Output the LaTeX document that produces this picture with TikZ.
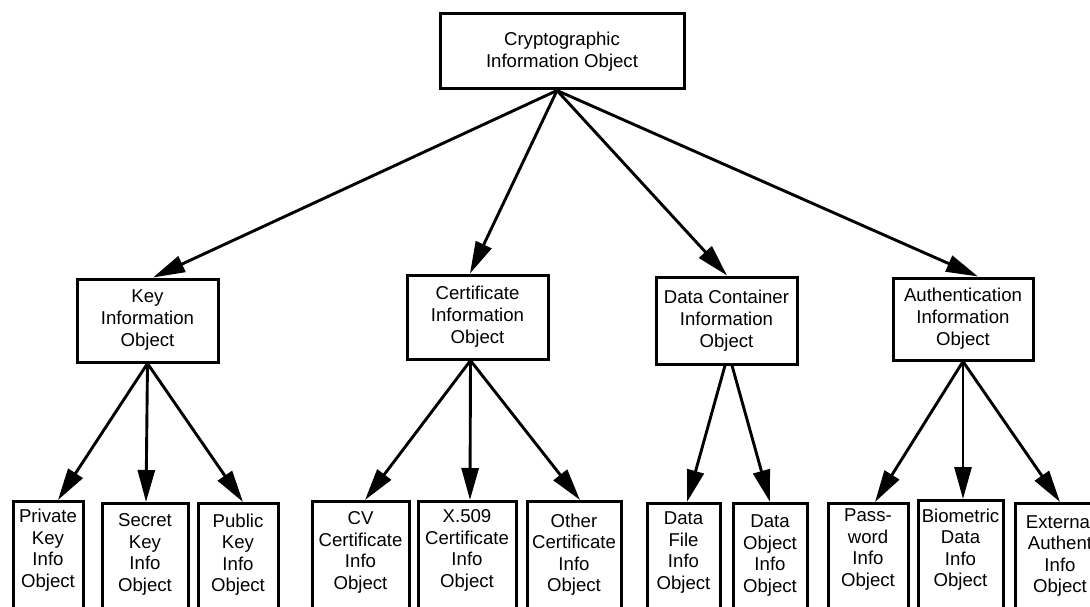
\documentclass[tikz,border=0pt]{standalone}
\usepackage{fontspec}
\setmainfont{Liberation Sans}
\usetikzlibrary{arrows.meta}
\begin{document}
\begin{tikzpicture}[x=1pt,y=-1pt,
  box/.style={draw, line width=3pt, align=center, inner sep=0pt,
    font=\fontsize{18.6}{22}\selectfont},
  leafbox/.style={draw, line width=3pt, anchor=north, inner sep=0pt,
    minimum height=150pt},
  leaftext/.style={align=center, inner sep=0pt,
    font=\fontsize{18.6}{21.5}\selectfont},
  link/.style={line width=2.9pt, -{Triangle[length=32pt,width=17pt]}}]

\useasboundingbox (0,0) rectangle (1090,607);
\clip (0,0) rectangle (1090,607);

% root
\node[box, minimum width=244pt, minimum height=75pt] (cio) at (562,51.5)
  {Cryptographic\\Information Object};

% second level
\node[box, minimum width=141pt, minimum height=83pt] (key) at (147.5,320.5)
  {Key\\Information\\Object};
\node[box, minimum width=141pt, minimum height=84pt] (cert) at (477.5,317)
  {Certificate\\Information\\Object};
\node[box, minimum width=141pt, minimum height=87pt] (dc) at (726.5,320.5)
  {Data Container\\Information\\Object};
\node[box, minimum width=140pt, minimum height=82pt] (auth) at (963,319)
  {Authentication\\Information\\Object};

% leaves (run off the lower edge)
\node[leafbox, minimum width=70pt] (pk)   at (48,500)    {};
\node[leafbox, minimum width=86pt] (sk)   at (145,502)   {};
\node[leafbox, minimum width=80pt] (pub)  at (238,502)   {};
\node[leafbox, minimum width=97pt] (cv)   at (360.5,500) {};
\node[leafbox, minimum width=98pt] (x509) at (467,500)   {};
\node[leafbox, minimum width=94pt] (oth)  at (574,500)   {};
\node[leafbox, minimum width=73pt] (df)   at (683.5,502) {};
\node[leafbox, minimum width=74pt] (do)   at (770,502)   {};
\node[leafbox, minimum width=80pt] (pw)   at (868,502)   {};
\node[leafbox, minimum width=85pt] (bio)  at (960.5,499) {};
\node[leafbox, minimum width=88pt] (ext)  at (1059,502)  {};

\node[leaftext] (pk-t)   at (48,550)    {Private\\Key\\Info\\Object};
\node[leaftext] (sk-t)   at (145,554.5) {Secret\\Key\\Info\\Object};
\node[leaftext] (pub-t)  at (238,554.5) {Public\\Key\\Info\\Object};
\node[leaftext] (cv-t)   at (360.5,552.5) {CV\\Certificate\\Info\\Object};
\node[leaftext] (x509-t) at (467,550.5) {X.509\\Certificate\\Info\\Object};
\node[leaftext] (oth-t)  at (574,554.5) {Other\\Certificate\\Info\\Object};
\node[leaftext] (df-t)   at (683.5,552.5) {Data\\File\\Info\\Object};
\node[leaftext] (do-t)   at (770,555.5) {Data\\Object\\Info\\Object};
\node[leaftext] (pw-t)   at (868,549.5) {Pass-\\word\\Info\\Object};
\node[leaftext] (bio-t)  at (960.5,549.5) {Biometric\\Data\\Info\\Object};
\node[leaftext] (ext-t)  at (1060,555.5) {External\\Authent\\Info\\Object};

% root to second level
\draw[link] ([xshift=-5pt]cio.south) -- ([xshift=5.5pt]key.north);
\draw[link] ([xshift=-5pt]cio.south) -- ([xshift=-7.5pt]cert.north);
\draw[link] ([xshift=-5pt]cio.south) -- ([xshift=0.5pt]dc.north);
\draw[link] ([xshift=-5pt]cio.south) -- ([xshift=15pt]auth.north);

% second level to leaves
\draw[link] (key.south) -- ([xshift=10pt]pk.north);
\draw[link] (key.south) -- ([xshift=1pt]sk.north);
\draw[link] (key.south) -- ([xshift=5pt]pub.north);

\draw[link] ([xshift=-7pt]cert.south) -- ([xshift=4.5pt]cv.north);
\draw[link] ([xshift=-7pt]cert.south) -- ([xshift=3pt]x509.north);
\draw[link] ([xshift=-7pt]cert.south) -- ([xshift=6pt]oth.north);

\draw[link] ([xshift=-1.5pt]dc.south) -- ([xshift=3.5pt]df.north);
\draw[link] ([xshift=5.5pt]dc.south) -- (do.north);

\draw[link] (auth.south) -- ([xshift=7pt]pw.north);
\draw[link] (auth.south) -- ([xshift=2.5pt]bio.north);
\draw[link] (auth.south) -- ([xshift=1pt]ext.north);
\end{tikzpicture}
\end{document}
